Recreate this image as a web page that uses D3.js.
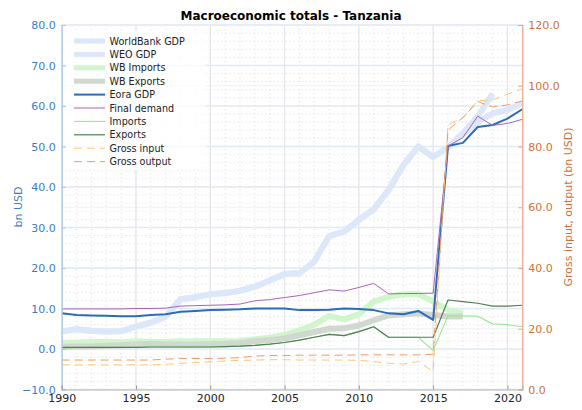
<!DOCTYPE html>
<html><head><meta charset="utf-8">
<script src="https://cdn.jsdelivr.net/npm/d3@7"></script>
<style>body{margin:0;background:#fff} text{font-family:"DejaVu Sans",sans-serif}</style>
</head><body><svg id="c" width="582" height="410"></svg>
<script>
const years=[1990,1991,1992,1993,1994,1995,1996,1997,1998,1999,2000,2001,2002,2003,2004,2005,2006,2007,2008,2009,2010,2011,2012,2013,2014,2015,2016,2017,2018,2019,2020,2021];
const wbGDP=[4.3,4.9,4.5,4.3,4.4,5.5,6.5,8.0,12.3,12.8,13.5,13.8,14.4,15.4,16.9,18.5,18.7,21.6,27.9,29.0,31.9,34.5,39.3,45.4,50.0,47.4,49.8,53.3,57.4,63.0,null,null];
const weoGDP=[4.3,4.9,4.5,4.3,4.4,5.5,6.5,8.0,12.3,12.8,13.5,13.8,14.4,15.4,16.9,18.5,18.7,21.6,27.9,29.0,31.9,34.5,39.3,45.4,50.0,47.4,49.8,53.0,56.0,58.2,59.0,60.7];
const wbImports=[1.5,1.6,1.7,1.7,1.7,1.9,1.8,1.7,1.9,1.9,1.9,1.9,2.0,2.4,2.8,3.5,4.6,6.0,8.2,7.3,8.6,11.7,12.9,13.5,13.6,11.7,9.6,8.8,null,null,null,null];
const wbExports=[0.5,0.6,0.6,0.8,0.9,1.2,1.3,1.2,1.1,1.1,1.2,1.3,1.5,1.9,2.2,2.6,3.4,4.2,5.0,5.1,5.8,7.1,8.3,8.6,8.8,8.4,8.0,8.0,null,null,null,null];
const eoraGDP=[8.8,8.4,8.3,8.2,8.1,8.1,8.4,8.6,9.2,9.4,9.6,9.7,9.8,10.0,10.0,10.0,9.6,9.6,9.7,10.0,9.9,9.6,8.8,8.6,9.4,7.2,50.1,50.9,54.8,55.3,56.9,59.2];
const finalDemand=[9.9,9.9,9.9,9.9,9.9,10.0,10.0,10.1,10.6,10.7,10.8,10.9,11.1,11.9,12.2,12.7,13.2,13.9,14.6,14.3,15.2,16.2,13.6,13.7,13.7,13.8,50.1,52.2,57.5,55.2,55.7,56.7];
const imports=[0.1,0.4,0.4,0.4,0.4,0.4,0.5,0.5,0.5,0.5,0.5,0.6,0.7,0.9,1.2,1.6,2.2,2.9,3.6,3.3,4.3,5.5,2.9,2.9,2.9,-0.4,8.2,8.2,8.1,6.2,6.0,5.5];
const exportsE=[0.4,0.4,0.4,0.4,0.4,0.4,0.5,0.5,0.5,0.5,0.5,0.6,0.7,0.9,1.2,1.6,2.2,2.9,3.6,3.3,4.3,5.5,2.9,2.9,2.9,2.9,12.1,11.7,11.3,10.6,10.6,10.8];
const grossInput=[8.1,8.1,8.1,8.1,8.1,8.1,8.1,8.3,8.6,8.9,9.1,9.4,9.6,9.7,9.8,9.8,9.7,9.7,9.7,9.7,9.6,9.2,8.6,8.4,9.2,5.9,87.1,89.5,95.1,95.3,97.2,99.0];
const grossOutput=[9.7,9.7,9.7,9.7,9.7,9.7,9.7,10.0,10.2,10.2,10.2,10.3,10.5,11.0,11.2,11.2,11.3,11.3,11.3,11.3,11.4,11.4,11.4,11.4,11.4,11.6,85.4,89.5,94.8,93.0,93.7,95.0];
const leftTicks=[-10,0,10,20,30,40,50,60,70,80];
const rightTicks=[0,20,40,60,80,100,120];
const xTicks=[1990,1995,2000,2005,2010,2015,2020];

const leftColor="#3a7dc5", rightColor="#d2703c";
const svg=d3.select("#c");
const L=61.7,R=522.3,T=25,B=389.5;
const x=d3.scaleLinear().domain([1990,2021]).range([L,R]);
const yL=d3.scaleLinear().domain([-10,80]).range([B,T]);
const yR=d3.scaleLinear().domain([0,120]).range([B,T]);

const g=svg.append("g");
g.selectAll(".mx").data(years).enter().append("line")
 .attr("x1",d=>x(d)).attr("x2",d=>x(d)).attr("y1",T).attr("y2",B)
 .attr("stroke","#d4d4d4").attr("stroke-width",0.8).attr("stroke-dasharray","1,3");
g.selectAll(".my").data(d3.range(-10,81,2)).enter().append("line")
 .attr("x1",L).attr("x2",R).attr("y1",d=>yL(d)).attr("y2",d=>yL(d))
 .attr("stroke","#d4d4d4").attr("stroke-width",0.8).attr("stroke-dasharray","1,3");
g.selectAll(".Ry").data(rightTicks).enter().append("line")
 .attr("x1",L).attr("x2",R).attr("y1",d=>yR(d)).attr("y2",d=>yR(d))
 .attr("stroke","#eef1f6").attr("stroke-width",1.2);
g.selectAll(".Ly").data(leftTicks).enter().append("line")
 .attr("x1",L).attr("x2",R).attr("y1",d=>yL(d)).attr("y2",d=>yL(d))
 .attr("stroke","#e0eaf7").attr("stroke-width",1.3);
g.selectAll(".Mx").data(xTicks).enter().append("line")
 .attr("x1",d=>x(d)).attr("x2",d=>x(d)).attr("y1",T).attr("y2",B)
 .attr("stroke","#e6e6ea").attr("stroke-width",1.3);

const series=[
 {name:"WorldBank GDP",v:wbGDP,ax:yL,c:"#dbe7f9",w:6},
 {name:"WEO GDP",v:weoGDP,ax:yL,c:"#dce7f9",w:6},
 {name:"WB Imports",v:wbImports,ax:yL,c:"#d2f6cb",w:6},
 {name:"WB Exports",v:wbExports,ax:yL,c:"#d0d8d0",w:6},
 {name:"Eora GDP",v:eoraGDP,ax:yL,c:"#2a6cb8",w:2},
 {name:"Final demand",v:finalDemand,ax:yL,c:"#a864b8",w:1},
 {name:"Imports",v:imports,ax:yL,c:"#9ee89a",w:1.2},
 {name:"Exports",v:exportsE,ax:yL,c:"#4f7f52",w:1.2},
 {name:"Gross input",v:grossInput,ax:yR,c:"#f8c878",w:1,dash:"8,5"},
 {name:"Gross output",v:grossOutput,ax:yR,c:"#ee9a68",w:1,dash:"8,5"}
];
svg.append("clipPath").attr("id","pc").append("rect").attr("x",L).attr("y",T).attr("width",R-L).attr("height",B-T);
const lg=svg.append("g").attr("clip-path","url(#pc)");
series.forEach(s=>{
  const line=d3.line().defined(d=>d[1]!==null).x(d=>x(d[0])).y(d=>s.ax(d[1]));
  lg.append("path").datum(years.map((y,i)=>[y,s.v[i]]))
    .attr("d",line).attr("fill","none").attr("stroke",s.c).attr("stroke-width",s.w)
    .attr("stroke-linejoin","round")
    .attr("stroke-dasharray",s.dash||null);
});

const axL=d3.axisLeft(yL).tickValues(leftTicks).tickFormat(d3.format(".1f")).tickSize(-4).tickPadding(6);
const gl=svg.append("g").attr("transform",`translate(${L},0)`).call(axL);
gl.select(".domain").attr("stroke","#a9c6e8").attr("stroke-width",1.2);
gl.selectAll(".tick line").attr("stroke","#a9c6e8");
gl.selectAll("text").attr("fill",leftColor).style("font-size","11px").attr("font-family","DejaVu Sans");

const axR=d3.axisRight(yR).tickValues(rightTicks).tickFormat(d3.format(".1f")).tickSize(-4).tickPadding(6);
const gr=svg.append("g").attr("transform",`translate(${R},0)`).call(axR);
gr.select(".domain").attr("stroke","#eba282").attr("stroke-width",1.2);
gr.selectAll(".tick line").attr("stroke","#eba282");
gr.selectAll("text").attr("fill",rightColor).style("font-size","11px").attr("font-family","DejaVu Sans");

const axB=d3.axisBottom(x).tickValues(xTicks).tickFormat(d3.format("d")).tickSize(-4).tickPadding(5);
const gb=svg.append("g").attr("transform",`translate(0,${B})`).call(axB);
gb.select(".domain").attr("stroke","#b4b4b4").attr("stroke-width",1.2);
gb.selectAll(".tick line").attr("stroke","#999");
gb.selectAll("text").attr("fill","#222").style("font-size","11px").attr("font-family","DejaVu Sans");

svg.append("text").attr("x",291).attr("y",20).attr("text-anchor","middle")
 .style("font-size","12px").style("font-weight","bold").attr("fill","#000").text("Macroeconomic totals - Tanzania");
svg.append("text").attr("transform","translate(22,207) rotate(-90)").attr("text-anchor","middle")
 .style("font-size","11px").attr("fill",leftColor).text("bn USD");
svg.append("text").attr("transform","translate(572,207) rotate(-90)").attr("text-anchor","middle")
 .style("font-size","11px").attr("fill",rightColor).text("Gross input, output (bn USD)");

const leg=svg.append("g");
leg.append("rect").attr("x",66).attr("y",31).attr("width",140).attr("height",139).attr("fill","#fff").attr("opacity",0.75);
series.forEach((s,i)=>{
  const yy=41+i*13.4;
  leg.append("line").attr("x1",74).attr("x2",105).attr("y1",yy).attr("y2",yy)
   .attr("stroke",s.c).attr("stroke-width",s.w===6?5:s.w).attr("stroke-dasharray",s.dash||null);
  leg.append("text").attr("x",109.5).attr("y",yy+3.5).style("font-size","9.6px").attr("fill","#222").text(s.name);
});
</script></body></html>
